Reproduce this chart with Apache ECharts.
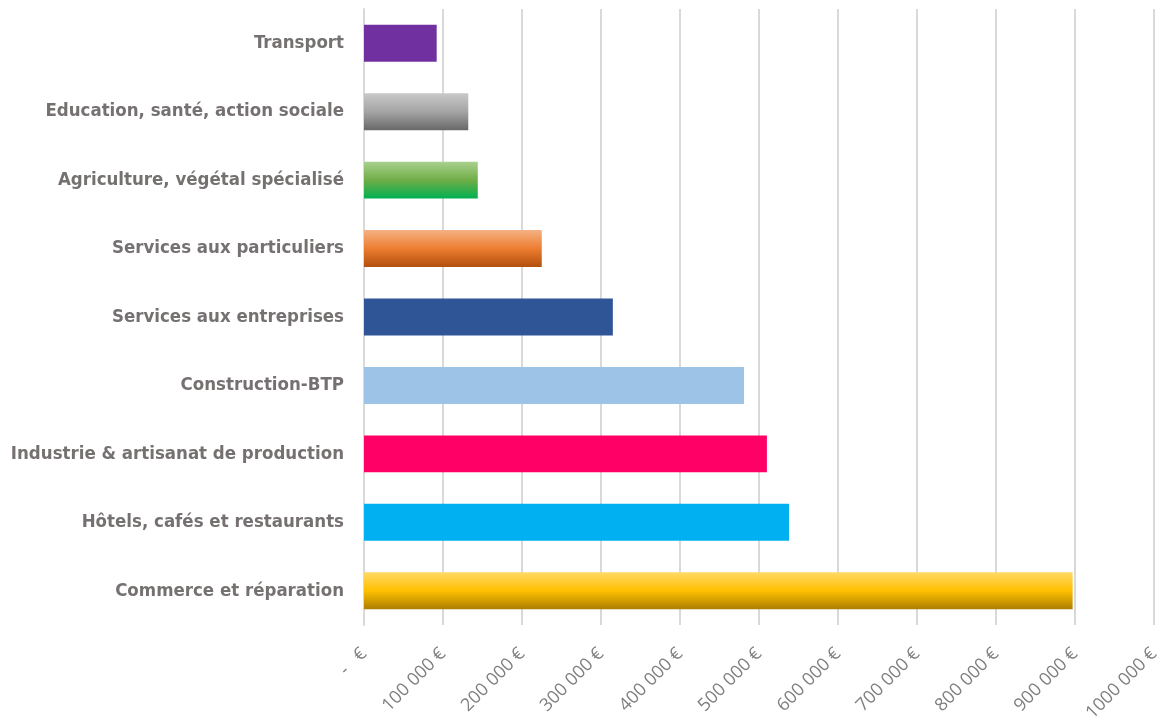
<!DOCTYPE html>
<html>
<head>
<meta charset="utf-8">
<script src="https://cdn.jsdelivr.net/npm/echarts@6/dist/echarts.min.js"></script>
<style>
  html, body { margin: 0; padding: 0; background: #fff; }
  #chart { width: 1157px; height: 721px; }
</style>
</head>
<body>
<div id="chart"></div>
<script>
// Secteurs (du bas vers le haut) et montants en euros
var categories = [
  'Commerce et réparation',
  'Hôtels, cafés et restaurants',
  'Industrie & artisanat de production',
  'Construction-BTP',
  'Services aux entreprises',
  'Services aux particuliers',
  'Agriculture, végétal spécialisé',
  'Education, santé, action sociale',
  'Transport'
];
var montants = [897000, 538000, 510000, 481000, 315000, 225000, 144000, 132000, 92000];

// Couleurs : [haut, milieu, bas] pour les dégradés, une seule pour les aplats
var couleurs = [
  ['#ffd966', '#ffc000', '#ad7e00'],
  ['#00b0f0'],
  ['#ff0066'],
  ['#9dc3e6'],
  ['#2f5597'],
  ['#f4b183', '#ed7d31', '#b24f0c'],
  ['#a9d18e', '#70ad47', '#00b050'],
  ['#c9c9c9', '#a5a5a5', '#686868'],
  ['#7030a0']
];

function remplissage(c) {
  if (c.length === 1) return c[0];
  return new echarts.graphic.LinearGradient(0, 0, 0, 1, [
    { offset: 0, color: c[0] },
    { offset: 0.5, color: c[1] },
    { offset: 1, color: c[2] }
  ]);
}

var seriesData = montants.map(function (v, i) {
  return { value: v, itemStyle: { color: remplissage(couleurs[i]) } };
});

function formatEuro(v) {
  if (v === 0) return '-   €';
  if (v === 1000000) return '1000 000 €';
  return String(v).replace(/\B(?=(\d{3})+(?!\d))/g, ' ') + ' €';
}

var chart = echarts.init(document.getElementById('chart'));

chart.setOption({
  animation: false,
  grid: {
    left: 364, width: 790, top: 9, bottom: 96,
    containLabel: false,
    outerBoundsMode: 'none'
  },
  xAxis: {
    type: 'value',
    min: 0,
    max: 1000000,
    interval: 100000,
    axisLine: { show: false },
    axisTick: { show: false },
    splitLine: { show: true, lineStyle: { color: '#d9d9d9', width: 2 } },
    axisLabel: {
      rotate: 45,
      margin: 26,
      color: '#7f7f7f',
      fontFamily: 'Open Sans',
      fontSize: 18,
      formatter: formatEuro
    }
  },
  yAxis: {
    type: 'category',
    data: categories,
    axisLine: { show: true, lineStyle: { color: '#d9d9d9', width: 2 } },
    axisTick: { show: false },
    axisLabel: {
      margin: 20,
      color: '#767171',
      fontFamily: 'DejaVu Sans Condensed',
      fontWeight: 'bold',
      fontSize: 18.5
    }
  },
  series: [{
    type: 'bar',
    barWidth: '54%',
    data: seriesData
  }]
});
</script>
</body>
</html>
